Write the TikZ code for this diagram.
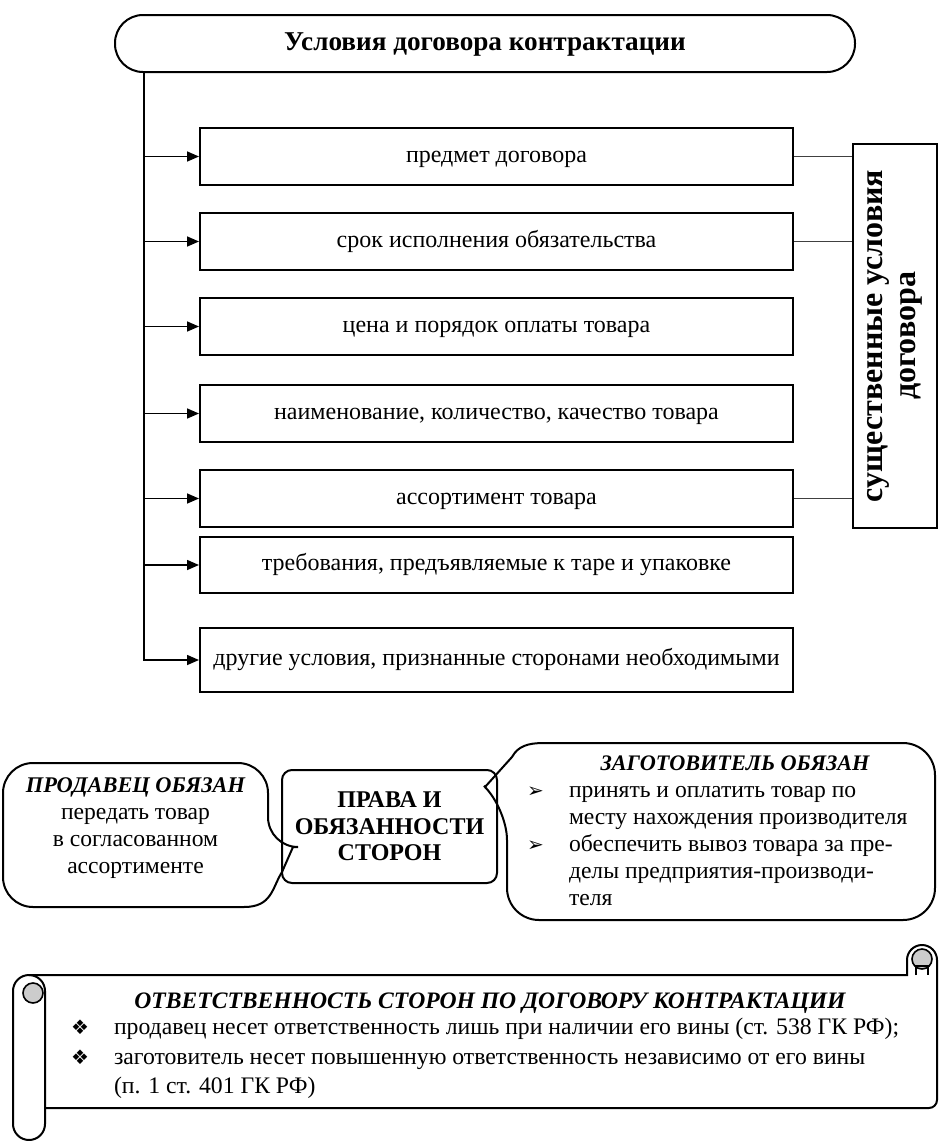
\documentclass[tikz,border=0pt]{standalone}
\usepackage{fontspec}
\setmainfont{Liberation Serif}
\newfontfamily\dingfont{DejaVu Sans}
\usetikzlibrary{arrows.meta}

\tikzset{
  item/.style={draw, line width=1pt, minimum width=296.5pt, minimum height=28.5pt, inner sep=2pt, text height=8.5pt, text depth=3pt, font=\fontsize{12}{14}\selectfont},
  feed/.style={line width=0.8pt, -{Triangle[length=6pt,width=5pt]}},
  link/.style={line width=0.6pt, draw=black!75},
  bubbletext/.style={font=\fontsize{11.8}{13.5}\selectfont},
}
\newcommand\arrowbullet{{\dingfont\fontsize{10}{10}\selectfont ➢}}
\newcommand\diamondbullet{{\dingfont\fontsize{10}{10}\selectfont ❖}}

\begin{document}
\begin{tikzpicture}[x=1pt, y=-1pt, line width=1pt]
    \useasboundingbox (0,0) rectangle (469,570.5);

    % conditions
    \node[draw, rounded corners=14pt, minimum width=370pt, minimum height=28.5pt, text height=9.5pt, text depth=3pt, font=\bfseries\fontsize{13.6}{15}\selectfont] (title) at (242.5,21.75) {Условия договора контрактации};

    \node[item] (b1) at (248.25,78.25) {предмет договора};
    \node[item] (b2) at (248.25,120.75) {срок исполнения обязательства};
    \node[item] (b3) at (248.25,163.25) {цена и порядок оплаты товара};
    \node[item] (b4) at (248.25,206.75) {наименование, количество, качество товара};
    \node[item] (b5) at (248.25,249.25) {ассортимент товара};
    \node[item, minimum height=28pt] (b6) at (248.25,282.5) {требования, предъявляемые к таре и упаковке};
    \node[item, minimum height=32pt] (b7) at (248.25,330) {другие условия, признанные сторонами необходимыми};

    \node[draw, rotate=90, minimum width=192pt, minimum height=42pt, inner sep=2pt, align=center, font=\bfseries\fontsize{16}{16.5}\selectfont] (ess) at (447.5,168) {существенные условия\\договора};

    \coordinate (trunk) at (72,36);
    \foreach \b in {b1,b2,b3,b4,b5,b6,b7}
        \draw[feed] (trunk) |- (\b.west);
    \foreach \b in {b1,b2,b5}
        \draw[link] (\b.east) -- (\b.east -| ess.north);

    % rights and duties
    \node[draw, rounded corners=5pt, minimum width=107.5pt, minimum height=56.5pt, align=center, font=\bfseries\fontsize{12}{13.3}\selectfont] (rights) at (194.75,413.25) {ПРАВА И\\ОБЯЗАННОСТИ\\СТОРОН};

    \draw (146.5,423.5) -- (141,436) .. controls (136,444) and (136,453.5) .. (122,453.5) [rounded corners=15pt] -- (1.5,453.5) -- (1.5,381.5) -- (134,381.5) -- (134,423.5) [sharp corners] -- cycle;
    \node[bubbletext, align=center] (seller) at (67.75,414) {{\bfseries\itshape\fontsize{11.2}{13.5}\selectfont ПРОДАВЕЦ ОБЯЗАН}\\передать товар\\в согласованном\\ассортименте};

    \draw (242.5,393.5) -- (256,378.5) .. controls (259,373) and (264,371.5) .. (272,371.5) [rounded corners=16pt] -- (467.5,371.5) -- (467.5,460) -- (253.5,460) -- (253.5,404) [sharp corners] -- cycle;
    \node[font=\bfseries\itshape\fontsize{11.1}{13.5}\selectfont] (buyerhead) at (367.5,381.5) {ЗАГОТОВИТЕЛЬ ОБЯЗАН};
    \node[bubbletext, anchor=north west, inner sep=0pt] (buyerlist) at (263,389) {%
        \begin{tabular}{@{}p{21pt}@{}l@{}}
        \arrowbullet & принять и оплатить товар по\\
         & месту нахождения производителя\\
        \arrowbullet & обеспечить вывоз товара за пре-\\
         & делы предприятия-производи-\\
         & теля
        \end{tabular}};

    % scroll
    \draw[rounded corners=8pt] (6.5,487.5) rectangle (22.5,570);
    \filldraw[fill=gray!40, line width=0.8pt] (16.5,496.5) circle[radius=5pt];
    \draw (14.5,487.5) -- (453.5,487.5) -- (453.5,480) arc[start angle=180, end angle=0, radius=7.5pt] [rounded corners=4pt] -- (468.5,554) -- (22.5,554);
    \filldraw[fill=gray!40, line width=0.8pt] (461,479.5) circle[radius=5pt];
    \draw[line width=0.8pt] (458,487.5) -- (458,483) -- (464,483) -- (464,487.5);

    \node[font=\bfseries\itshape\fontsize{11.8}{14}\selectfont] (dutyhead) at (245,501.5) {ОТВЕТСТВЕННОСТЬ СТОРОН ПО ДОГОВОРУ КОНТРАКТАЦИИ};
    \node[anchor=north west, inner sep=0pt, font=\fontsize{11.85}{14.8}\selectfont] (dutylist) at (35,506.5) {%
        \begin{tabular}{@{}p{21.5pt}@{}l@{}}
        \diamondbullet & продавец несет ответственность лишь при наличии его вины (ст. 538 ГК РФ);\\
        \diamondbullet & заготовитель несет повышенную ответственность независимо от его вины\\
         & (п. 1 ст. 401 ГК РФ)
        \end{tabular}};
\end{tikzpicture}
\end{document}
